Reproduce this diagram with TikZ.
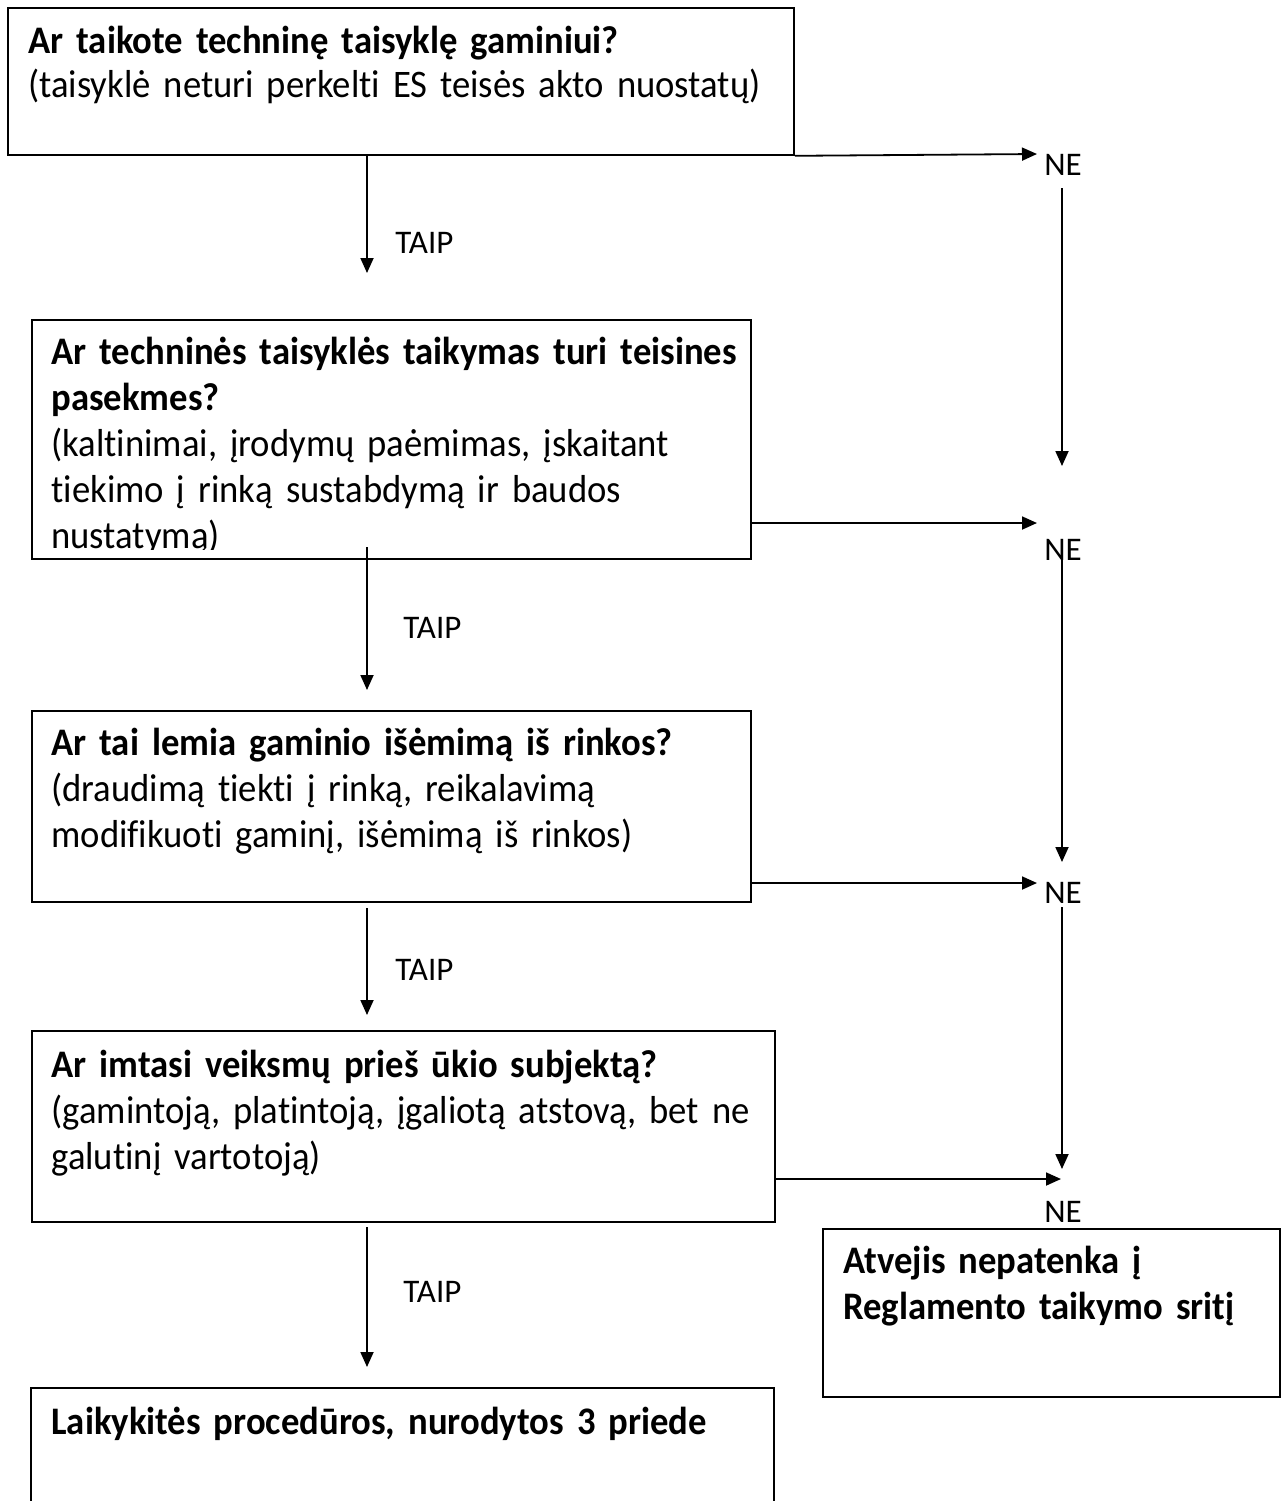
\documentclass[tikz,border=0pt]{standalone}
\usepackage{fontspec}
\setmainfont{Carlito}
\newfontfamily\boxfont[FakeStretch=0.94,WordSpace=0.7,Ligatures=NoCommon]{Carlito}
\usetikzlibrary{arrows.meta}
\begin{document}
\begin{tikzpicture}[x=0.5pt,y=-0.5pt,
  boxshape/.style={draw, line width=0.9pt, inner sep=0pt, anchor=north west},
  boxtext/.style={anchor=base west, inner sep=0pt, text width=390pt, align=left, font=\boxfont\fontsize{19.5}{23}\selectfont},
  lbl/.style={anchor=base west, inner sep=0pt, font=\fontsize{16.5}{18}\selectfont},
  arr/.style={line width=0.9pt, -{Triangle[length=7.5pt,width=6.5pt]}},
  ln/.style={line width=0.9pt}]
\useasboundingbox (0,0) rectangle (1285,1501);
\fill[white] (0,0) rectangle (1285,1501);

% boxes
\node[boxshape, minimum width=393pt, minimum height=73.5pt] (b1) at (7,7) {};
\node[boxshape, minimum width=359.5pt, minimum height=119.5pt] (b2) at (31,319) {};
\node[boxshape, minimum width=359.5pt, minimum height=95.5pt] (b3) at (31,710) {};
\node[boxshape, minimum width=371.5pt, minimum height=95.5pt] (b4) at (31,1030) {};
\node[boxshape, minimum width=228.5pt, minimum height=84pt] (b5) at (822,1228) {};
\draw[ln] (31,1510) -- (31,1388) -- (774,1388) -- (774,1510);

% texts
\node[boxtext, font=\boxfont\fontsize{19.5}{22}\selectfont] (t1) at (28,53)
  {\textbf{Ar taikote techninę taisyklę gaminiui?}\\(taisyklė neturi perkelti ES teisės akto nuostatų)};
\begin{scope}
\clip (31,319) rectangle (750,549);
\node[boxtext] (t2) at (51,364)
  {\textbf{Ar techninės taisyklės taikymas turi teisines}\\\textbf{pasekmes?}\\(kaltinimai, įrodymų paėmimas, įskaitant\\tiekimo į rinką sustabdymą ir baudos\\nustatymą)};
\end{scope}
\node[boxtext] (t3) at (51,755)
  {\textbf{Ar tai lemia gaminio išėmimą iš rinkos?}\\(draudimą tiekti į rinką, reikalavimą\\modifikuoti gaminį, išėmimą iš rinkos)};
\node[boxtext] (t4) at (51,1077)
  {\textbf{Ar imtasi veiksmų prieš ūkio subjektą?}\\(gamintoją, platintoją, įgaliotą atstovą, bet ne\\galutinį vartotoją)};
\node[boxtext, text width=225pt] (t5) at (843,1273)
  {\textbf{Atvejis nepatenka į}\\\textbf{Reglamento taikymo sritį}};
\node[boxtext] (t6) at (51,1434)
  {\textbf{Laikykitės procedūros, nurodytos 3 priede}};

% labels
\node[lbl] (y1) at (395,253) {TAIP};
\node[lbl] (y2) at (403,638) {TAIP};
\node[lbl] (y3) at (395,980) {TAIP};
\node[lbl] (y4) at (403,1302) {TAIP};
\node[lbl] (n1) at (1044,175) {NE};
\node[lbl] (n2) at (1044,560) {NE};
\node[lbl] (n3) at (1044,903) {NE};
\node[lbl] (n4) at (1044,1222) {NE};

% connector end points
\coordinate (a1s) at (367,154);  \coordinate (a1e) at (367,273);
\coordinate (a2s) at (367,547);  \coordinate (a2e) at (367,690);
\coordinate (a3s) at (367,908);  \coordinate (a3e) at (367,1015);
\coordinate (a4s) at (367,1227); \coordinate (a4e) at (367,1367);
\coordinate (h1e) at (1037,154);
\coordinate (h2s) at (750,523);  \coordinate (h2e) at (1037,523);
\coordinate (h3s) at (750,883);  \coordinate (h3e) at (1037,883);
\coordinate (h4s) at (774,1179); \coordinate (h4e) at (1061,1179);
\coordinate (v1s) at (1062,188); \coordinate (v1e) at (1062,466);
\coordinate (v2s) at (1062,547); \coordinate (v2e) at (1062,862);
\coordinate (v3s) at (1062,907); \coordinate (v3e) at (1062,1169);

% TAIP arrows
\draw[arr] (a1s) -- (a1e);
\draw[arr] (a2s) -- (a2e);
\draw[arr] (a3s) -- (a3e);
\draw[arr] (a4s) -- (a4e);
% NE arrows
\draw[arr] (b1.south east) -- (h1e);
\draw[arr] (h2s) -- (h2e);
\draw[arr] (h3s) -- (h3e);
\draw[arr] (h4s) -- (h4e);
\draw[arr] (v1s) -- (v1e);
\draw[arr] (v2s) -- (v2e);
\draw[arr] (v3s) -- (v3e);
\end{tikzpicture}
\end{document}
